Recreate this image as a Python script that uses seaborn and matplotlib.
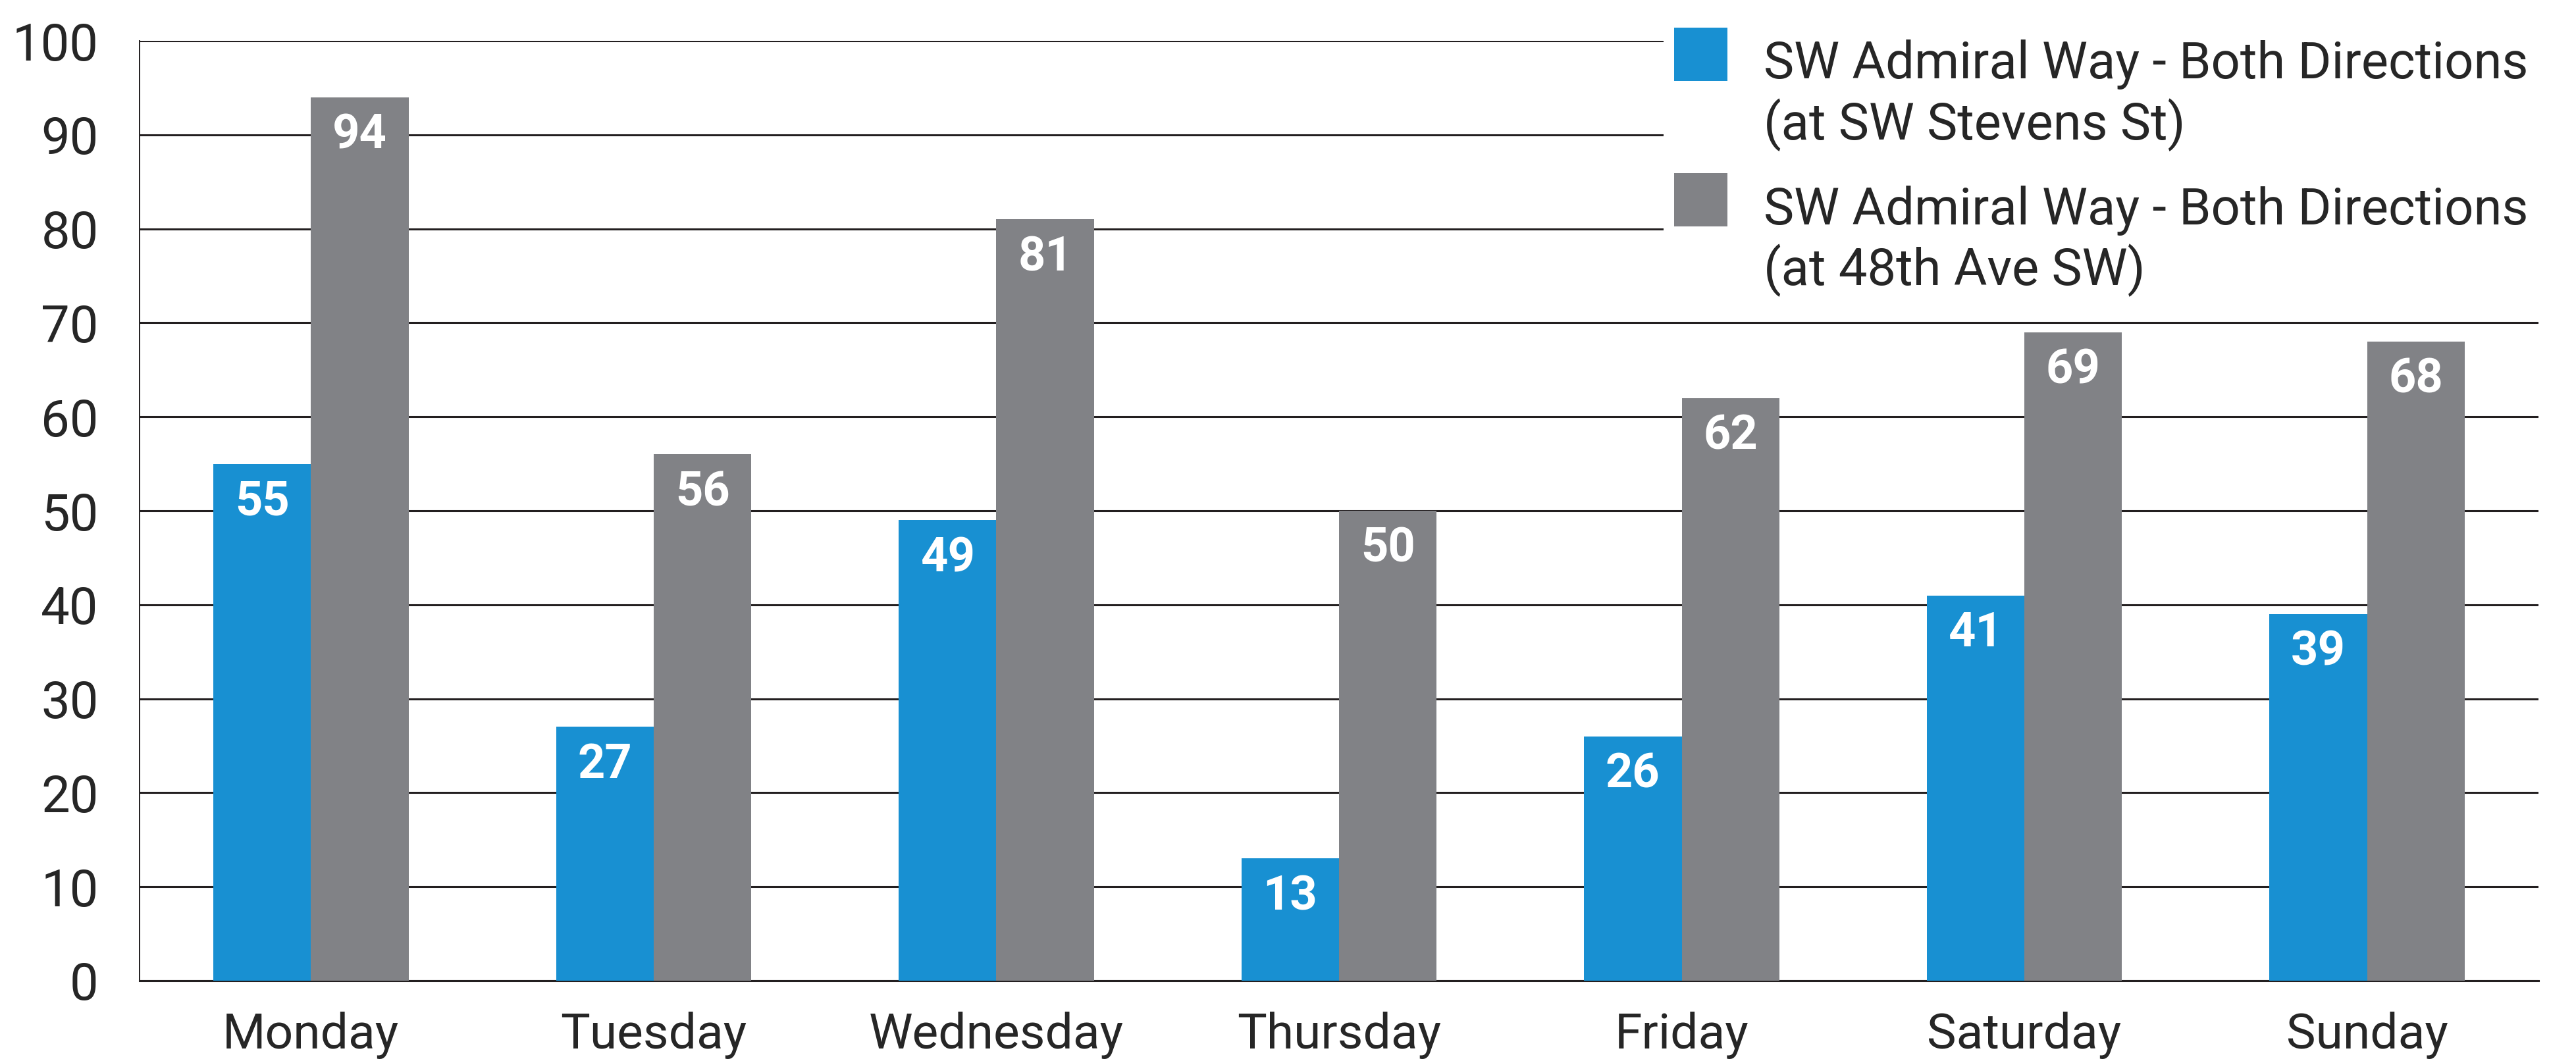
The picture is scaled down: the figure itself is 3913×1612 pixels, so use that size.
import matplotlib
matplotlib.use("Agg")
import matplotlib.pyplot as plt
from matplotlib.patches import Patch, Rectangle
from matplotlib.legend_handler import HandlerPatch
from matplotlib.ticker import FixedLocator
import seaborn as sns
import pandas as pd

# 데이터
days = ["Monday", "Tuesday", "Wednesday", "Thursday", "Friday", "Saturday", "Sunday"]
stevens = [55, 27, 49, 13, 26, 41, 39]
ave48 = [94, 56, 81, 50, 62, 69, 68]
series_names = ["SW Admiral Way - Both Directions\n(at SW Stevens St)",
                "SW Admiral Way - Both Directions\n(at 48th Ave SW)"]
y_ticks = [0, 10, 20, 30, 40, 50, 60, 70, 80, 90, 100]

df = pd.DataFrame({
    "day": days * 2,
    "count": stevens + ave48,
    "series": [series_names[0]] * len(days) + [series_names[1]] * len(days),
})

colors = ["#1890d2", "#818286"]
line_c = "#231f20"

sns.set_style("white")
plt.rcParams["font.family"] = ["Roboto", "DejaVu Sans"]

fig = plt.figure(figsize=(39.13, 16.12), dpi=100)
ax = fig.add_axes([0.0542, 0.0757, 0.9312, 0.8858])

sns.barplot(data=df, x="day", y="count", hue="series", order=days,
            hue_order=series_names, palette=colors, width=0.57,
            saturation=1, linewidth=0, ax=ax, legend=False, zorder=3)

ax.set_xlim(-0.5, len(days) - 0.5)
ax.set_ylim(0, 100)
ax.set_yticks(y_ticks)
ax.yaxis.grid(True, color=line_c, linewidth=2.2, zorder=0)
ax.set_axisbelow(True)
ax.set_xlabel("")
ax.set_ylabel("")

for s in ["top", "right"]:
    ax.spines[s].set_visible(False)
ax.spines["left"].set_color(line_c)
ax.spines["left"].set_linewidth(1.4)
ax.spines["bottom"].set_color(line_c)
ax.spines["bottom"].set_linewidth(2.2)

ax.tick_params(axis="y", length=27, width=2.2, color=line_c, pad=18, labelsize=56)
ax.tick_params(axis="x", which="major", length=0, pad=34, labelsize=54)
ax.xaxis.set_minor_locator(FixedLocator([i - 0.5 for i in range(len(days) + 1)]))
ax.tick_params(axis="x", which="minor", length=32, width=1.4, color=line_c)

# 막대 위 값 표시
for cont in ax.containers:
    for bar in cont:
        h = bar.get_height()
        ax.annotate(f"{h:.0f}", (bar.get_x() + bar.get_width() / 2, h),
                    xytext=(0, -42), textcoords="offset points",
                    ha="center", va="center", color="white",
                    fontsize=52, fontweight="bold", zorder=4)

# 범례 - 네모를 첫 줄에 맞추기
leg_fs = 56


def top_square(legend, orig_handle, xdescent, ydescent, width, height, fontsize):
    side = 1.05 * fontsize
    top = -ydescent + height + 0.62 * fontsize
    return Rectangle((-xdescent, top - side), side, side)


handles = [Patch(facecolor=c, edgecolor="none") for c in colors]
leg = ax.legend(handles, series_names, loc="upper right",
                bbox_to_anchor=(1.0, 1.012), frameon=True, fontsize=leg_fs,
                handlelength=1.05, handleheight=2.0, handletextpad=0.7,
                labelspacing=0.67, borderaxespad=0, borderpad=0.2,
                fancybox=False,
                handler_map={Patch: HandlerPatch(patch_func=top_square)})
leg.get_frame().set_facecolor("white")
leg.get_frame().set_edgecolor("none")
leg.get_frame().set_alpha(1)
leg.set_zorder(5)

fig.savefig("out.png", dpi=100, facecolor="white")
